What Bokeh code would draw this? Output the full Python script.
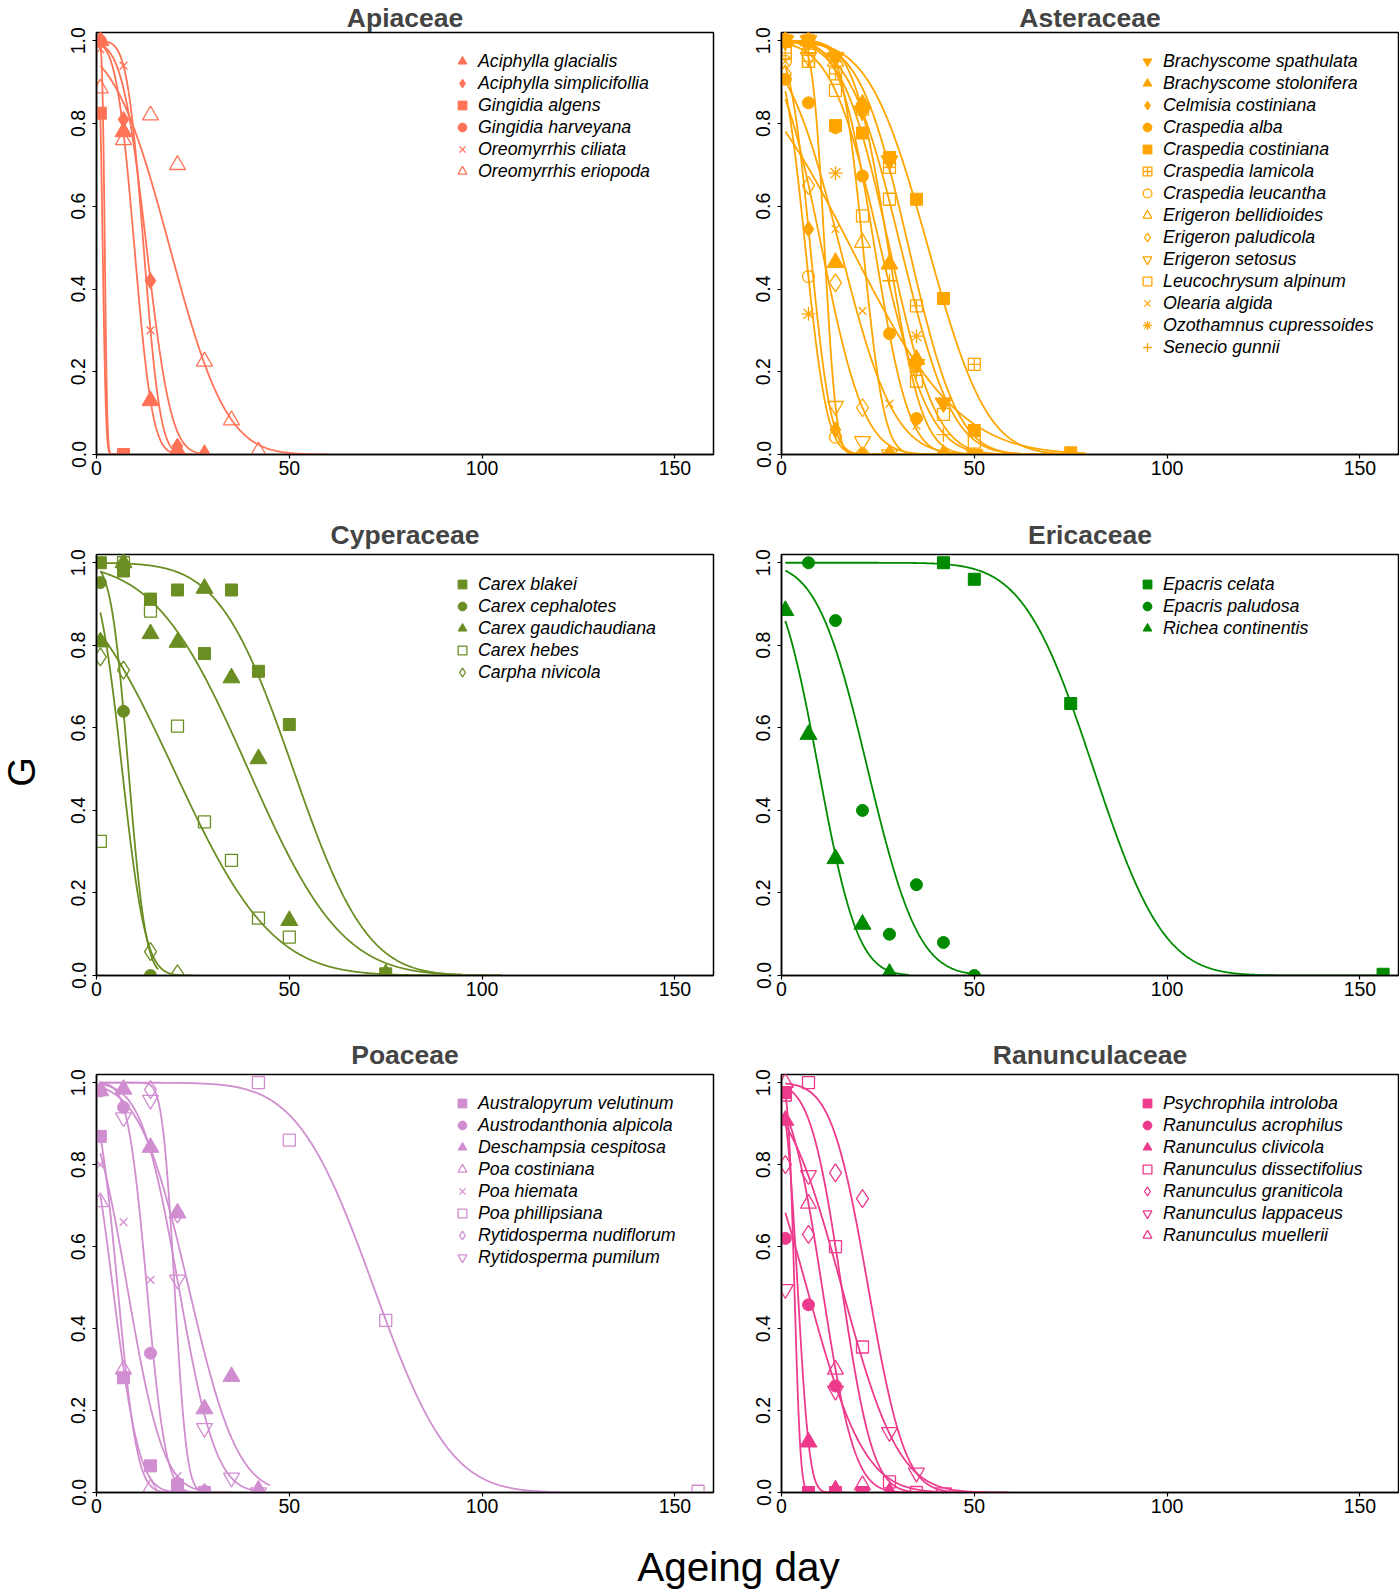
import math
import numpy as np
from bokeh.plotting import figure
from bokeh.models import Range1d, FixedTicker, Legend, LegendItem, NumeralTickFormatter
from bokeh.layouts import row, column
from bokeh.embed import file_html
from bokeh.resources import INLINE
from bokeh.core.properties import value

FONT = "Liberation Sans"

# ---------------- Apiaceae ----------------
api_names = ["Aciphylla glacialis", "Aciphylla simplicifollia", "Gingidia algens",
             "Gingidia harveyana", "Oreomyrrhis ciliata", "Oreomyrrhis eriopoda"]
api_pch = [17, 18, 15, 16, 4, 2]
api_days = [[1, 7, 14, 21, 28], [1, 7, 14, 21, 28], [1, 7], [1, 7], [1, 7, 14, 21],
            [1, 7, 14, 21, 28, 35, 42]]
api_g = [[1.0, 0.78, 0.13, 0.01, 0.0], [1.0, 0.81, 0.42, 0.02, 0.0], [0.825, 0.0], [1.0, 0.0],
         [0.98, 0.94, 0.30, 0.0], [0.885, 0.76, 0.82, 0.70, 0.225, 0.083, 0.008]]
api_ki = [2.66, 2.6, 2.4, 4.3, 3.62, 1.64]
api_sigma = [3.7, 5.0, 0.67, 0.5, 3.38, 11.6]
api_xend = [25, 28, 6, 6, 25, 60]

# ---------------- Asteraceae ----------------
ast_names = ["Brachyscome spathulata", "Brachyscome stolonifera", "Celmisia costiniana",
             "Craspedia alba", "Craspedia costiniana", "Craspedia lamicola", "Craspedia leucantha",
             "Erigeron bellidioides", "Erigeron paludicola", "Erigeron setosus",
             "Leucochrysum alpinum", "Olearia algida", "Ozothamnus cupressoides", "Senecio gunnii"]
ast_pch = [25, 17, 18, 16, 15, 12, 1, 2, 5, 6, 0, 4, 8, 3]
ast_days = [[1, 7, 14, 21, 28, 35, 42, 50], [1, 7, 14, 21, 28, 35, 42], [1, 7, 14, 21, 28],
            [1, 7, 14, 21, 28, 35, 42], [1, 7, 14, 21, 28, 35, 42, 50, 75],
            [1, 7, 14, 21, 28, 35, 50], [1, 7, 14, 21], [1, 7, 14, 21, 28],
            [1, 7, 14, 21, 28], [1, 7, 14, 21, 28], [1, 7, 14, 21, 28, 35, 42, 50],
            [1, 14, 21, 28, 35, 42], [7, 14, 35, 50], [1, 7, 14, 21, 28, 35, 42, 75]]
ast_g = [[1.0, 1.0, 0.96, 0.83, 0.71, 0.218, 0.125, 0.0],
         [1.0, 1.0, 0.464, 0.847, 0.46, 0.23, 0.0],
         [1.0, 0.545, 0.06, 0.0, 0.0],
         [0.907, 0.85, 0.79, 0.673, 0.292, 0.087, 0.0],
         [1.0, 1.0, 0.795, 0.777, 0.718, 0.617, 0.377, 0.058, 0.004],
         [0.97, 0.95, 0.92, 0.835, 0.694, 0.359, 0.218],
         [0.95, 0.43, 0.042, 0.0],
         [1.0, 0.98, 0.95, 0.512, 0.0],
         [0.92, 0.65, 0.415, 0.113, 0.0],
         [1.0, 0.96, 0.117, 0.032, 0.0],
         [0.97, 0.95, 0.88, 0.577, 0.617, 0.177, 0.097, 0.03],
         [0.95, 0.545, 0.347, 0.123, 0.07, 0.0],
         [0.34, 0.68, 0.286, 0.0],
         [1.0, 0.98, 0.95, 0.83, 0.42, 0.2, 0.048, 0.0]]
ast_ki = [2.95, 2.95, 1.78, 3.45, 3.17, 3.3, 1.39, 4.86, 1.19, 4.69, 2.57, 1.38, 0.82, 3.95]
ast_sigma = [10.5, 9.5, 4.2, 7.0, 12.0, 10.0, 4.46, 4.35, 8.75, 2.38, 10.0, 11.0, 22.0, 7.0]
ast_xend = [79, 79, 40, 79, 79, 79, 40, 40, 60, 35, 79, 79, 79, 79]

# ---------------- Cyperaceae ----------------
cyp_names = ["Carex blakei", "Carex cephalotes", "Carex gaudichaudiana", "Carex hebes",
             "Carpha nivicola"]
cyp_pch = [15, 16, 17, 0, 5]
cyp_days = [[1, 7, 14, 21, 28, 35, 42, 50, 75], [1, 7, 14],
            [1, 7, 14, 21, 28, 35, 42, 50, 75], [1, 7, 14, 21, 28, 35, 42, 50], [1, 7, 14, 21]]
cyp_g = [[1.0, 0.98, 0.912, 0.934, 0.78, 0.934, 0.737, 0.608, 0.004],
         [0.952, 0.64, 0.0],
         [0.808, 1.0, 0.828, 0.807, 0.938, 0.721, 0.525, 0.133, 0.004],
         [0.325, 1.0, 0.883, 0.604, 0.372, 0.279, 0.139, 0.093],
         [0.772, 0.74, 0.058, 0.004]]
cyp_ki = [3.4, 2.33, 2.07, 1.0, 1.38]
cyp_sigma = [15.0, 3.55, 19.0, 20.0, 4.8]
cyp_xend = [105, 16, 105, 90, 25]

# ---------------- Ericaceae ----------------
eri_names = ["Epacris celata", "Epacris paludosa", "Richea continentis"]
eri_pch = [15, 16, 17]
eri_days = [[42, 50, 75, 156], [7, 14, 21, 28, 35, 42, 50], [1, 7, 14, 21, 28]]
eri_g = [[1.0, 0.96, 0.659, 0.003], [1.0, 0.86, 0.40, 0.10, 0.22, 0.08, 0.0],
         [0.884, 0.584, 0.283, 0.124, 0.005]]
eri_ki = [5.66, 2.17, 1.2]
eri_sigma = [14.3, 10.3, 8.0]
eri_xend = [156, 51, 33]

# ---------------- Poaceae ----------------
poa_names = ["Australopyrum velutinum", "Austrodanthonia alpicola", "Deschampsia cespitosa",
             "Poa costiniana", "Poa hiemata", "Poa phillipsiana", "Rytidosperma nudiflorum",
             "Rytidosperma pumilum"]
poa_pch = [15, 16, 17, 2, 4, 0, 5, 6]
poa_days = [[1, 7, 14, 21, 28], [1, 7, 14, 21, 28], [1, 7, 14, 21, 28, 35, 42], [1, 7, 14],
            [1, 7, 14, 21, 28], [42, 50, 75, 156], [14, 21, 28], [7, 14, 21, 28, 35, 42]]
poa_g = [[0.869, 0.28, 0.065, 0.018, 0.0], [0.98, 0.94, 0.34, 0.022, 0.003],
         [0.98, 0.984, 0.842, 0.682, 0.204, 0.283, 0.006], [0.709, 0.30, 0.01],
         [0.80, 0.66, 0.519, 0.04, 0.0], [1.0, 0.86, 0.42, 0.003], [0.983, 0.68, 0.0],
         [0.915, 0.958, 0.519, 0.157, 0.036, 0.0]]
poa_ki = [1.37, 3.35, 2.39, 0.79, 1.08, 4.64, 8.1, 2.82]
poa_sigma = [4.0, 3.9, 10.0, 5.36, 7.4, 15.5, 2.5, 7.57]
poa_xend = [30, 35, 45, 25, 30, 120, 30, 42]

# ---------------- Ranunculaceae ----------------
ran_names = ["Psychrophila introloba", "Ranunculus acrophilus", "Ranunculus clivicola",
             "Ranunculus dissectifolius", "Ranunculus graniticola", "Ranunculus lappaceus",
             "Ranunculus muellerii"]
ran_pch = [15, 16, 17, 0, 5, 6, 2]
ran_days = [[1, 7, 14, 21], [1, 7, 14, 21], [1, 7, 14, 28], [1, 7, 14, 21, 28, 35],
            [1, 7, 14, 21], [1, 7, 14, 28, 35, 42], [1, 7, 14, 21, 28]]
ran_g = [[0.976, 0.0, 0.0, 0.0], [0.62, 0.458, 0.26, 0.0], [0.908, 0.123, 0.006, 0.0],
         [0.97, 1.0, 0.6, 0.355, 0.026, 0.0], [0.80, 0.63, 0.78, 0.717],
         [0.496, 0.774, 0.248, 0.147, 0.048, 0.0], [1.0, 0.705, 0.30, 0.018, 0.0]]
ran_ki = [2.7, 0.56, 1.74, 2.44, 3.0, 1.35, 1.6]
ran_sigma = [1.24, 11.7, 2.41, 6.4, 7.5, 11.6, 6.6]
ran_xend = [8, 50, 15, 45, 50, 59, 43]

x_ticks = [0, 50, 100, 150]
y_ticks = [0.0, 0.2, 0.4, 0.6, 0.8, 1.0]

# R pch -> (bokeh marker, filled, size)
PCH = {
    0: ("square", False, 12), 1: ("circle", False, 12), 2: ("triangle", False, 16),
    3: ("cross", False, 14), 4: ("x", False, 11), 5: ("diamond", False, 18),
    6: ("inverted_triangle", False, 16), 8: ("asterisk", False, 14),
    12: ("square_cross", False, 12), 15: ("square", True, 12), 16: ("circle", True, 12),
    17: ("triangle", True, 17), 18: ("diamond", True, 16), 25: ("inverted_triangle", True, 17),
}

FRAME_W = 617
ROW_H = 22


def probit_curve(ki, sigma, xend):
    # fitted viability curve G = Phi(Ki - p/sigma)
    xs = np.arange(1.0, xend + 1e-9, 0.2)
    ys = [0.5 * (1.0 + math.erf((ki - x / sigma) / math.sqrt(2.0))) for x in xs]
    return xs, ys


def panel(title, color, names, pchs, days, gs, kis, sigmas, xends,
          left_b, right_b, top_b, bottom_b, frame_h, title_gap):
    p = figure(frame_width=FRAME_W, frame_height=frame_h, x_range=Range1d(0, 160),
               y_range=Range1d(0, 1.02), toolbar_location=None, output_backend="svg",
               min_border_left=left_b, min_border_right=right_b, min_border_top=top_b,
               min_border_bottom=bottom_b, title=title)
    p.title.text_font = FONT
    p.title.text_font_size = "26.5px"
    p.title.text_font_style = "bold"
    p.title.align = "center"
    p.title.standoff = title_gap
    p.xgrid.visible = False
    p.ygrid.visible = False
    p.outline_line_color = "black"
    p.outline_line_width = 1.5
    p.background_fill_color = "white"
    p.xaxis.ticker = FixedTicker(ticks=x_ticks)
    p.yaxis.ticker = FixedTicker(ticks=y_ticks)
    p.yaxis.formatter = NumeralTickFormatter(format="0.0")
    p.yaxis.major_label_orientation = "vertical"
    for ax in (p.xaxis, p.yaxis):
        ax.axis_line_color = "black"
        ax.axis_line_width = 1.5
        ax.major_tick_line_color = "black"
        ax.major_tick_line_width = 1.2
        ax.major_tick_out = 4
        ax.major_tick_in = 0
        ax.minor_tick_line_color = None
        ax.major_label_text_font = FONT
        ax.major_label_text_font_size = "19.5px"
        ax.major_label_text_color = "black"
    p.xaxis.major_label_standoff = 2
    p.yaxis.major_label_standoff = 7

    for ki, sg, xe in zip(kis, sigmas, xends):
        xs, ys = probit_curve(ki, sg, xe)
        p.line(xs, ys, line_color=color, line_width=1.8)

    items = []
    for name, pch, dx, gy in zip(names, pchs, days, gs):
        mk, filled, sz = PCH[pch]
        r = p.scatter(x=dx, y=gy, marker=mk, size=sz,
                      fill_color=color if filled else None,
                      line_color=color, line_width=1.0 if filled else 1.3)
        items.append(LegendItem(label=name, renderers=[r]))

    leg = Legend(items=items, location=(355, round(frame_h - 18.5 - ROW_H * len(items))),
                 glyph_width=ROW_H, glyph_height=ROW_H, label_height=ROW_H, label_standoff=5,
                 spacing=0, padding=0, margin=0, border_line_color=None,
                 background_fill_alpha=0.0, label_text_font=FONT,
                 label_text_font_style="italic", label_text_font_size="17.8px",
                 label_text_color="black")
    p.add_layout(leg)
    return p


G_W = 44
LB, LR = 52, 3     # left column borders
RB, RR = 65, 1     # right column borders

TL = panel("Apiaceae", "#FF7256", api_names, api_pch, api_days, api_g, api_ki, api_sigma,
           api_xend, LB, LR, 32, 40, 422, 0)
TR = panel("Asteraceae", "#FFA500", ast_names, ast_pch, ast_days, ast_g, ast_ki, ast_sigma,
           ast_xend, RB, RR, 32, 40, 422, 0)
ML = panel("Cyperaceae", "#6B8E23", cyp_names, cyp_pch, cyp_days, cyp_g, cyp_ki, cyp_sigma,
           cyp_xend, LB, LR, 60, 40, 421, 10)
MR = panel("Ericaceae", "#008B00", eri_names, eri_pch, eri_days, eri_g, eri_ki, eri_sigma,
           eri_xend, RB, RR, 60, 40, 421, 10)
BL = panel("Poaceae", "#D08ED0", poa_names, poa_pch, poa_days, poa_g, poa_ki, poa_sigma,
           poa_xend, LB, LR, 59, 38, 418, 10)
BR = panel("Ranunculaceae", "#EE3A8C", ran_names, ran_pch, ran_days, ran_g, ran_ki, ran_sigma,
           ran_xend, RB, RR, 59, 38, 418, 10)

BOTTOM_H = 68
TOTAL_H = 1530 + BOTTOM_H
ROW_W = (LB + FRAME_W + LR) + (RB + FRAME_W + RR)

bottom = figure(width=ROW_W, height=BOTTOM_H, x_range=Range1d(0, ROW_W),
                y_range=Range1d(0, BOTTOM_H), x_axis_type=None, y_axis_type=None,
                toolbar_location=None, output_backend="svg", min_border=0,
                outline_line_color=None)
bottom.text(x=[738 - G_W], y=[BOTTOM_H - 36], text=["Ageing day"], text_align="center",
            text_baseline="middle", text_font=value(FONT), text_font_size="40.5px",
            text_color="black")

gfig = figure(width=G_W, height=TOTAL_H, x_range=Range1d(0, G_W), y_range=Range1d(0, TOTAL_H),
              x_axis_type=None, y_axis_type=None, toolbar_location=None,
              output_backend="svg", min_border=0, outline_line_color=None)
gfig.text(x=[21], y=[TOTAL_H - 771.5], text=["G"], angle=math.pi / 2, text_align="center",
          text_baseline="middle", text_font=value(FONT), text_font_size="38px",
          text_color="black")

grid = column(row(TL, TR), row(ML, MR), row(BL, BR), bottom)
layout = row(gfig, grid)

open("out.html", "w").write(file_html(layout, INLINE))
